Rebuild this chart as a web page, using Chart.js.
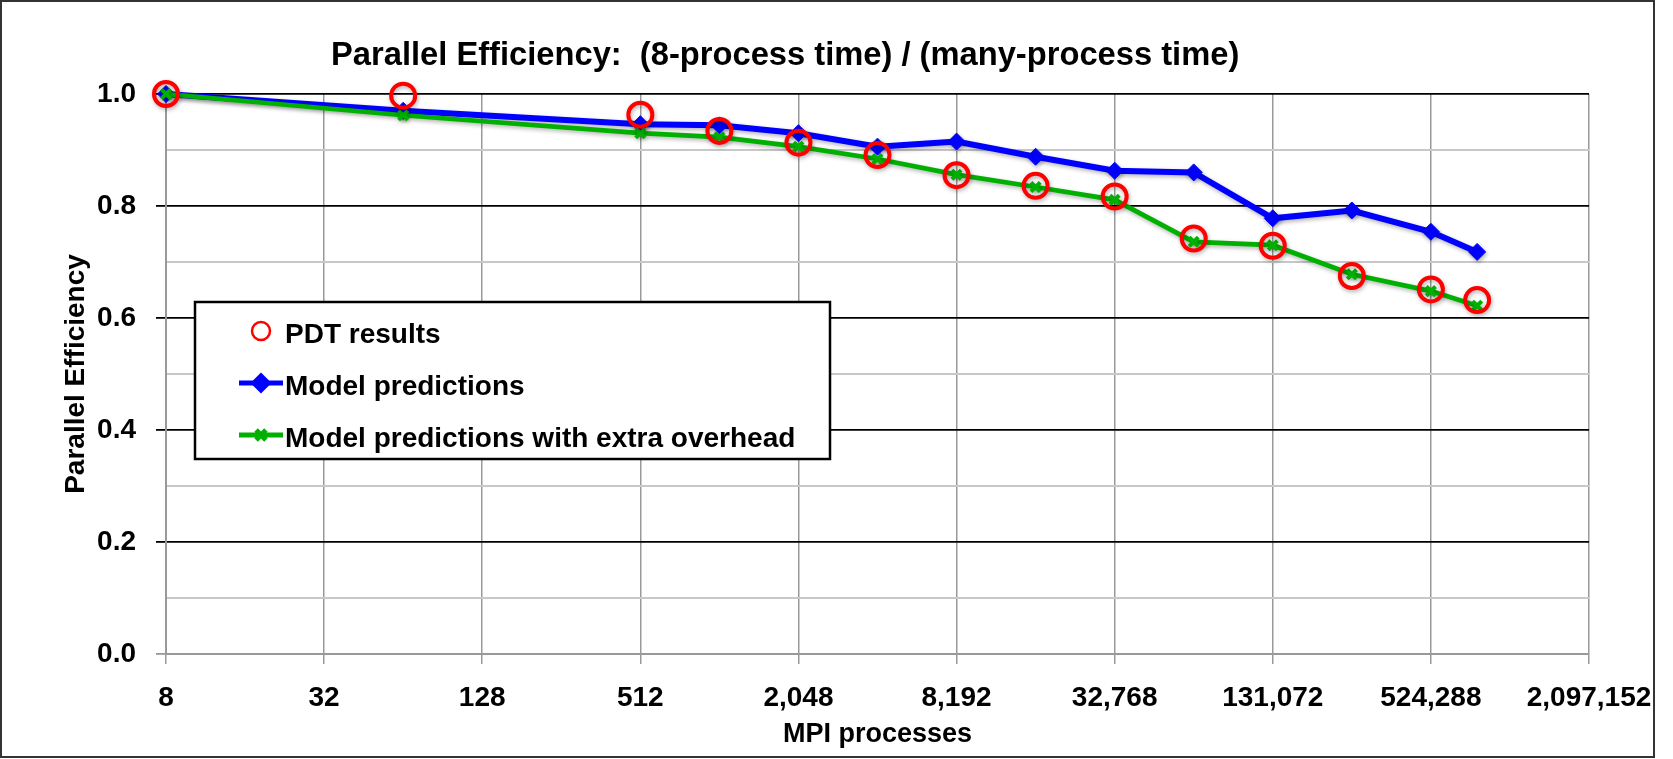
<!DOCTYPE html>
<html>
<head>
<meta charset="utf-8">
<title>Parallel Efficiency</title>
<script src="https://cdn.jsdelivr.net/npm/chart.js@4/dist/chart.umd.min.js"></script>
<style>
    html, body { margin: 0; padding: 0; background: #fff; }
    #wrap { width: 1673px; height: 759px; }
</style>
</head>
<body>
<div id="wrap"><canvas id="effChart" width="1673" height="759"></canvas></div>
<script>
// MPI process counts (x) and the three efficiency series (y)
const PROCS = [8, 64, 512, 1024, 2048, 4096, 8192, 16384, 32768, 65536, 131072, 262144, 524288, 786432];
const PDT_RESULTS = [1.0, 0.997, 0.963, 0.934, 0.913, 0.891, 0.855, 0.836, 0.817, 0.742, 0.729, 0.675, 0.651, 0.632];
const MODEL = [1.0, 0.970, 0.946, 0.944, 0.930, 0.906, 0.915, 0.888, 0.863, 0.860, 0.778, 0.792, 0.754, 0.718];
const MODEL_OVERHEAD = [1.0, 0.962, 0.930, 0.923, 0.906, 0.884, 0.856, 0.834, 0.811, 0.736, 0.730, 0.678, 0.648, 0.622];

// axis ticks
const X_TICKS = [8, 32, 128, 512, 2048, 8192, 32768, 131072, 524288, 2097152];
const Y_MIN = 0;
const Y_MAX = 1;
const Y_STEP = 0.1;

const TITLE = 'Parallel Efficiency:  (8-process time) / (many-process time)';
const LABELS = ['PDT results', 'Model predictions', 'Model predictions with extra overhead'];

const FONT = "'Liberation Sans', Arial, Helvetica, sans-serif";
const RED = '#ff0000';
const BLUE = '#0000ff';
const GREEN = '#00b000';

const toPoints = (ys) => PROCS.map((x, i) => ({ x: x, y: ys[i] }));
const isMajor = (v) => Math.round(v * 10) % 2 === 0;

Chart.defaults.font.family = FONT;
Chart.defaults.color = '#000';

// Title, legend box, outer frame and soft line shadows
const overlayPlugin = {
    id: 'overlay',
    beforeDatasetsDraw(chart) {
        const ctx = chart.ctx;
        ctx.save();
        ctx.shadowColor = 'rgba(0, 0, 0, 0.3)';
        ctx.shadowBlur = 4;
        ctx.shadowOffsetX = 1;
        ctx.shadowOffsetY = 2;
    },
    afterDatasetsDraw(chart) {
        chart.ctx.restore();
    },
    afterDraw(chart) {
        const ctx = chart.ctx;
        ctx.save();

        // chart title
        ctx.font = 'bold 32.7px ' + FONT;
        ctx.fillStyle = '#000';
        ctx.textAlign = 'left';
        ctx.textBaseline = 'alphabetic';
        ctx.fillText(TITLE, 331, 65);

        // legend box
        ctx.fillStyle = '#fff';
        ctx.fillRect(195, 302, 635, 157);
        ctx.lineWidth = 2.5;
        ctx.strokeStyle = '#000';
        ctx.strokeRect(195, 302, 635, 157);

        chart.data.datasets.forEach((ds, i) => {
            const baseY = 343 + i * 52;
            const markY = baseY - 12;
            if (ds.showLine !== false) {
                ctx.beginPath();
                ctx.moveTo(239, markY);
                ctx.lineTo(283, markY);
                ctx.lineWidth = 5;
                ctx.strokeStyle = ds.borderColor;
                ctx.stroke();
            }
            ctx.fillStyle = ds.pointBackgroundColor;
            ctx.strokeStyle = ds.pointBorderColor;
            Chart.helpers.drawPoint(ctx, {
                pointStyle: ds.pointStyle,
                radius: ds.pointStyle === 'circle' ? 9 : 7,
                borderWidth: ds.pointStyle === 'circle' ? 3.5 : ds.pointBorderWidth,
                rotation: 0
            }, 261, markY);

            ctx.font = 'bold 28px ' + FONT;
            ctx.fillStyle = '#000';
            ctx.fillText(ds.label, 285, baseY);
        });

        // outer frame
        ctx.lineWidth = 2;
        ctx.strokeStyle = '#333';
        ctx.strokeRect(1, 1, 1653, 756);
        ctx.restore();
    }
};

const ctx = document.getElementById('effChart').getContext('2d');

new Chart(ctx, {
    type: 'line',
    data: {
        datasets: [
            {
                label: LABELS[0],
                data: toPoints(PDT_RESULTS),
                showLine: false,
                pointStyle: 'circle',
                pointRadius: 12,
                pointBorderWidth: 4,
                pointBorderColor: RED,
                pointBackgroundColor: 'rgba(0,0,0,0)',
                borderColor: RED,
                order: 0,
                clip: false
            },
            {
                label: LABELS[1],
                data: toPoints(MODEL),
                borderColor: BLUE,
                borderWidth: 6,
                pointStyle: 'rectRot',
                pointRadius: 8.5,
                pointBorderWidth: 1,
                pointBorderColor: BLUE,
                pointBackgroundColor: BLUE,
                tension: 0,
                order: 2,
                clip: false
            },
            {
                label: LABELS[2],
                data: toPoints(MODEL_OVERHEAD),
                borderColor: GREEN,
                borderWidth: 4.7,
                pointStyle: 'crossRot',
                pointRadius: 6.5,
                pointBorderWidth: 4,
                pointBorderColor: GREEN,
                pointBackgroundColor: GREEN,
                tension: 0,
                order: 1,
                clip: false
            }
        ]
    },
    options: {
        responsive: false,
        animation: false,
        devicePixelRatio: 1,
        layout: {
            padding: { top: 94, right: 84, bottom: 0, left: 0 }
        },
        plugins: {
            legend: { display: false },
            title: { display: false },
            tooltip: { enabled: false }
        },
        scales: {
            x: {
                type: 'logarithmic',
                min: X_TICKS[0],
                max: X_TICKS[X_TICKS.length - 1],
                afterBuildTicks: (scale) => {
                    scale.ticks = X_TICKS.map(v => ({ value: v }));
                },
                afterFit: (scale) => {
                    scale.height = 105;
                },
                ticks: {
                    autoSkip: false,
                    maxRotation: 0,
                    padding: 17,
                    font: { size: 28, weight: 'bold' },
                    color: '#000',
                    callback: (value) => Number(value).toLocaleString('en-US')
                },
                grid: {
                    color: '#999',
                    lineWidth: 1.5,
                    tickLength: 10,
                    tickColor: '#999'
                },
                border: { color: '#999', width: 2 },
                title: {
                    display: true,
                    text: 'MPI processes',
                    font: { size: 27, weight: 'bold' },
                    color: '#000',
                    padding: { top: 0, bottom: 8 }
                }
            },
            y: {
                min: Y_MIN,
                max: Y_MAX,
                afterFit: (scale) => {
                    scale.width = 166;
                },
                ticks: {
                    stepSize: Y_STEP,
                    padding: 20,
                    font: { size: 28, weight: 'bold' },
                    color: '#000',
                    callback: (value) => isMajor(value) ? Number(value).toFixed(1) : ''
                },
                grid: {
                    tickLength: 10,
                    color: (c) => {
                        const v = c.tick.value;
                        if (Math.abs(v) < 1e-9) return '#999';
                        return isMajor(v) ? '#000' : '#c8c8c8';
                    },
                    lineWidth: (c) => isMajor(c.tick.value) ? 1.8 : 2,
                    tickColor: (c) => {
                        const v = c.tick.value;
                        if (Math.abs(v) < 1e-9) return '#999';
                        return isMajor(v) ? '#000' : 'rgba(0,0,0,0)';
                    }
                },
                border: { color: '#999', width: 2 },
                title: {
                    display: true,
                    text: 'Parallel Efficiency',
                    font: { size: 28, weight: 'bold' },
                    color: '#000',
                    padding: { top: 59, bottom: 0 }
                }
            }
        }
    },
    plugins: [overlayPlugin]
});
</script>
</body>
</html>
